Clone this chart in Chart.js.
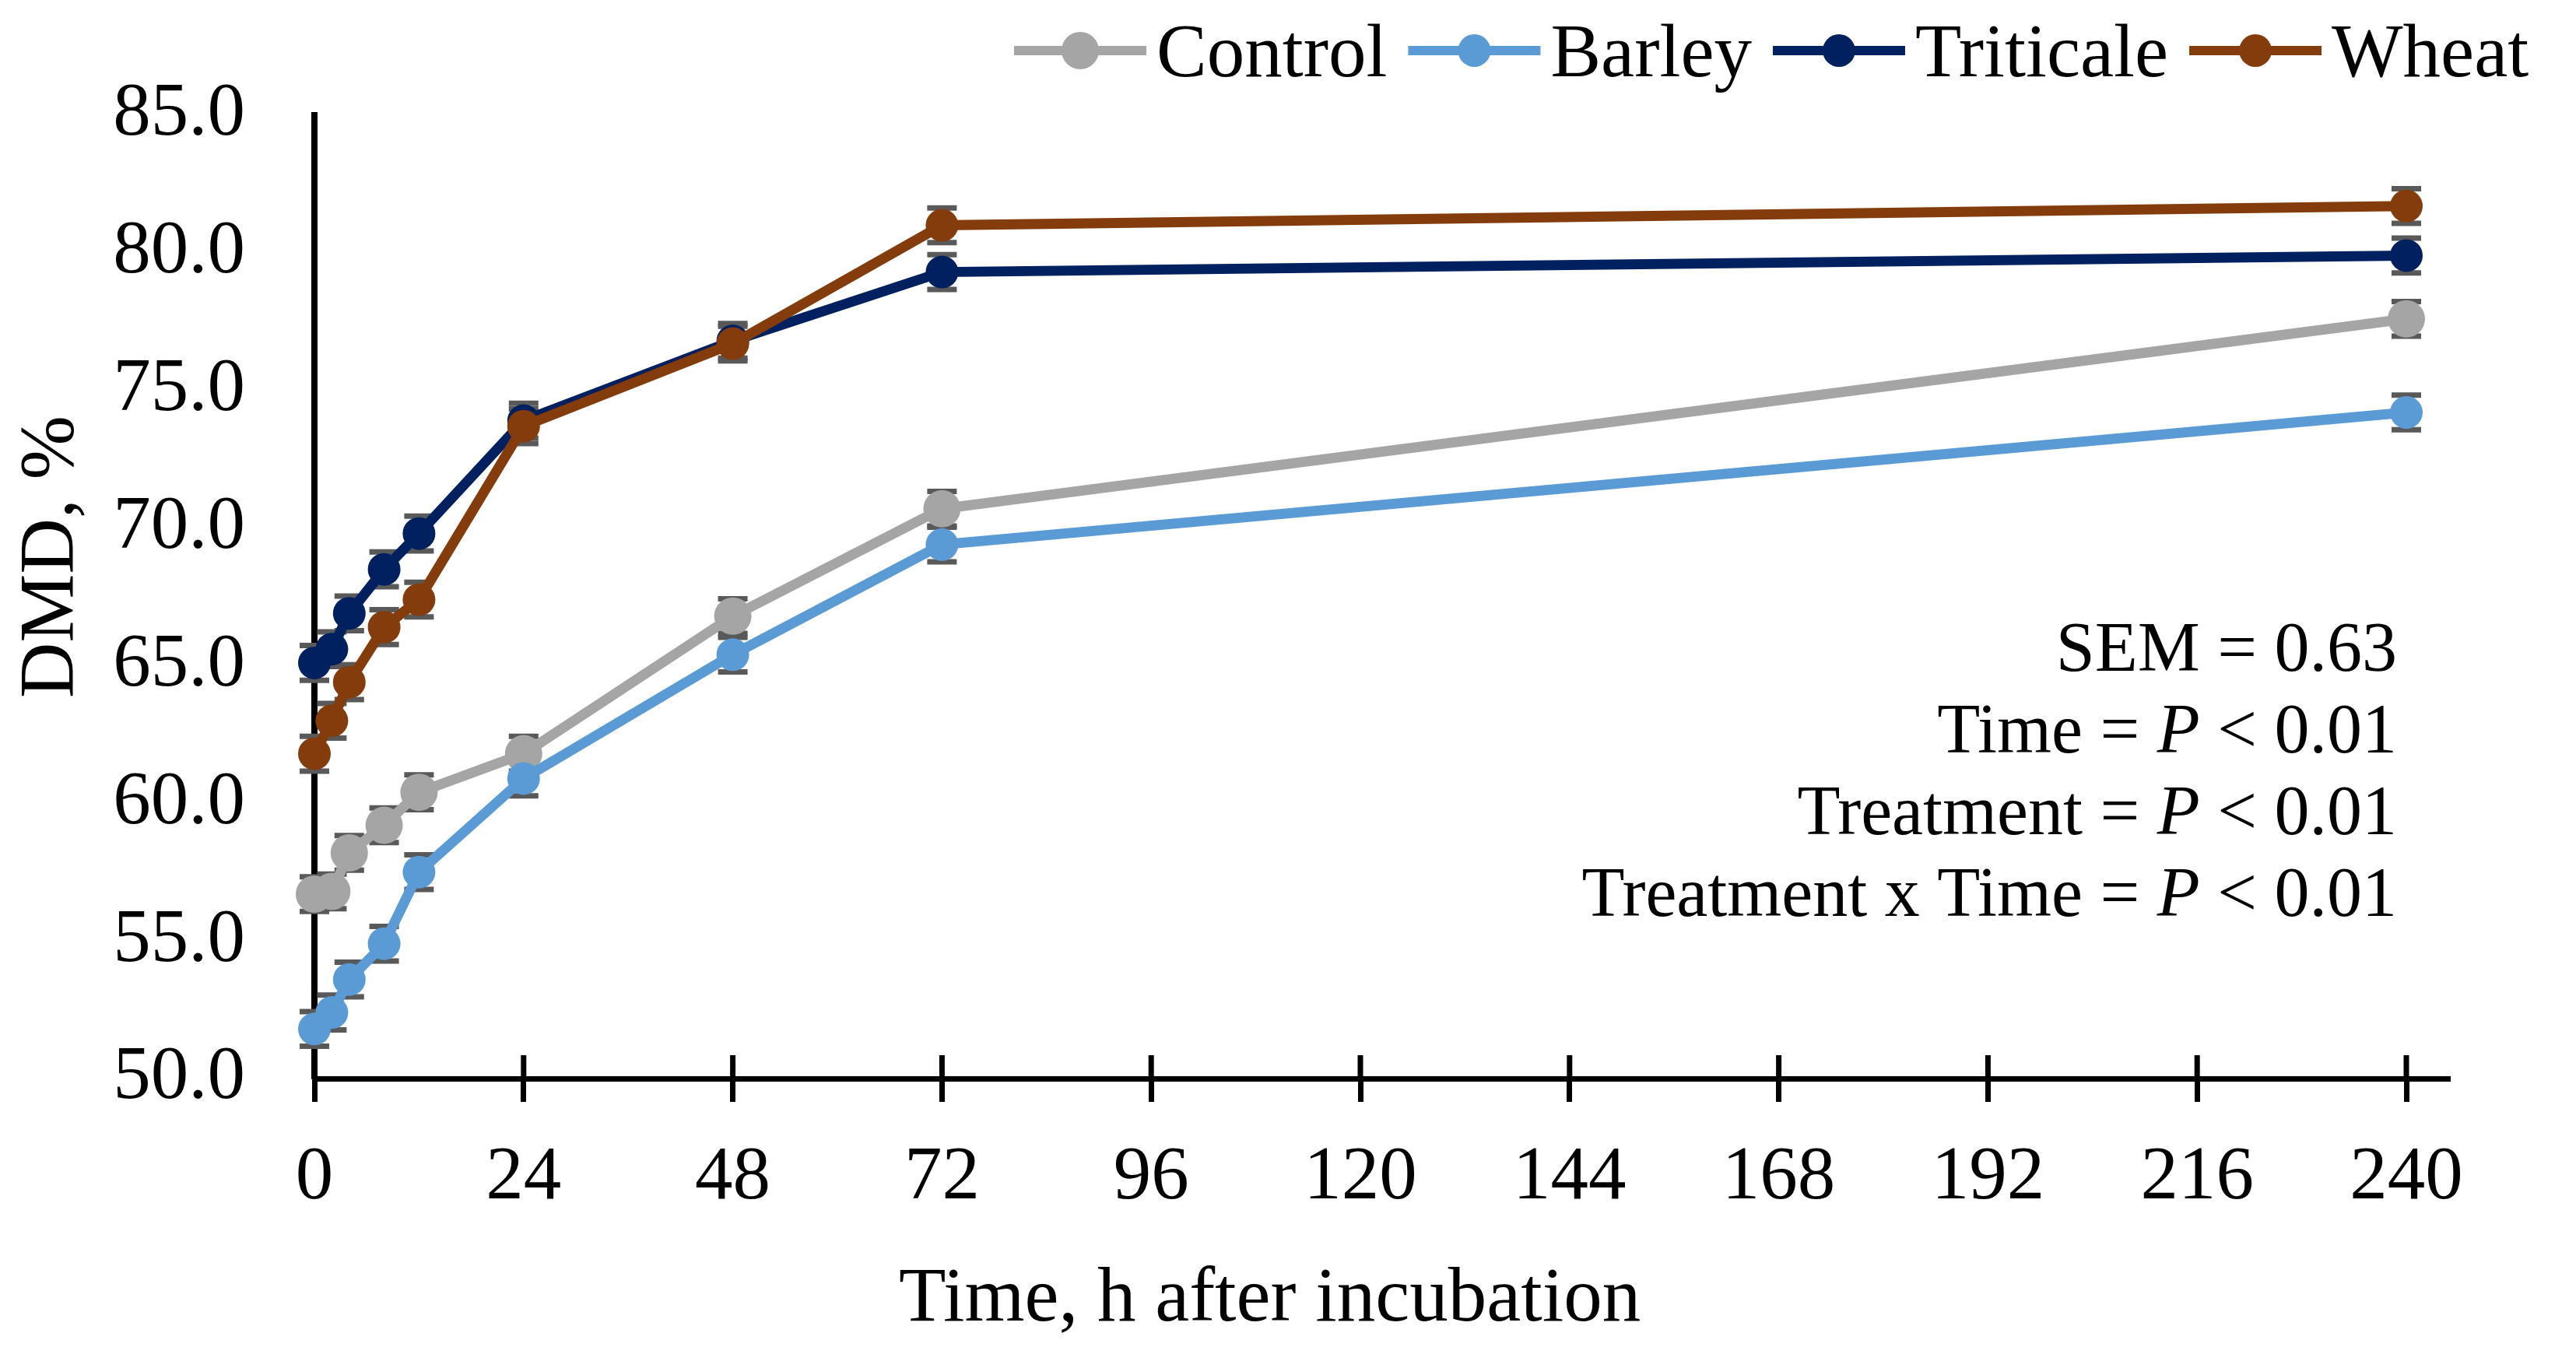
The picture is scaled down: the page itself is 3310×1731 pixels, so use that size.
<!DOCTYPE html>
<html lang="en">
<head>
<meta charset="UTF-8" />
<title>DMD chart</title>
<script src="https://cdn.jsdelivr.net/npm/chart.js"></script>
<style>
  html, body { margin: 0; padding: 0; background: #fff; }
  #wrap { width: 3310px; height: 1731px; }
</style>
</head>
<body>
<div id="wrap"><canvas id="myChart"></canvas></div>
<script>
// incubation times, h
const hours = [0, 2, 4, 8, 12, 24, 48, 72, 240];
const xTicks = [0, 24, 48, 72, 96, 120, 144, 168, 192, 216, 240];
const yTicks = [50, 55, 60, 65, 70, 75, 80, 85];

const seriesNames = ["Control", "Barley", "Triticale", "Wheat"];
const control = [56.7, 56.8, 58.2, 59.2, 60.4, 61.8, 66.8, 70.7, 77.6];
const barley = [51.8, 52.4, 53.6, 54.9, 57.5, 60.9, 65.4, 69.4, 74.2];
const triticale = [65.1, 65.6, 66.9, 68.5, 69.8, 73.9, 76.8, 79.3, 79.9];
const wheat = [61.8, 63.0, 64.4, 66.4, 67.4, 73.7, 76.7, 81.0, 81.7];
const sem = 0.63;

const statLines = [
  ["SEM = 0.63"],
  ["Time = ", "P", " < 0.01"],
  ["Treatment = ", "P", " < 0.01"],
  ["Treatment x Time = ", "P", " < 0.01"],
];

const colors = ["#A5A5A5", "#5B9BD5", "#002060", "#843C0C"];
const radii = [24, 21, 21, 21];
const FONT = "'Liberation Serif', 'Times New Roman', serif";

const datasets = [control, barley, triticale, wheat].map((vals, i) => ({
  label: seriesNames[i],
  data: hours.map((h, j) => ({ x: h, y: vals[j] })),
  borderColor: colors[i],
  backgroundColor: colors[i],
  borderWidth: 13,
  pointRadius: radii[i],
  pointBorderWidth: 0,
  pointHoverRadius: radii[i],
  tension: 0,
  clip: false,
  order: 4 - i, // wheat drawn last, on top
}));

// error bars under the lines, from the chart's own scales
const errorBars = {
  id: "errorBars",
  beforeDatasetsDraw(chart) {
    const { ctx, scales: { x, y } } = chart;
    ctx.save();
    ctx.strokeStyle = "#595959";
    chart.data.datasets.forEach((ds) => {
      ds.data.forEach((p) => {
        const px = x.getPixelForValue(p.x);
        const top = y.getPixelForValue(p.y + sem);
        const bot = y.getPixelForValue(p.y - sem);
        ctx.lineWidth = 3;
        ctx.beginPath();
        ctx.moveTo(px, top);
        ctx.lineTo(px, bot);
        ctx.stroke();
        ctx.lineWidth = 7;
        ctx.beginPath();
        ctx.moveTo(px - 19, top);
        ctx.lineTo(px + 19, top);
        ctx.moveTo(px - 19, bot);
        ctx.lineTo(px + 19, bot);
        ctx.stroke();
      });
    });
    ctx.restore();
  },
};

// ticks crossing the x axis: inner half drawn here, outer half by the grid
const innerTicks = {
  id: "innerTicks",
  afterDraw(chart) {
    const { ctx, scales: { x, y } } = chart;
    const base = y.getPixelForValue(50);
    ctx.save();
    ctx.strokeStyle = "#000";
    ctx.lineWidth = 7;
    x.ticks.forEach((t) => {
      const px = x.getPixelForValue(t.value);
      ctx.beginPath();
      ctx.moveTo(px, base);
      ctx.lineTo(px, base - 30);
      ctx.stroke();
    });
    ctx.restore();
  },
};

const extras = {
  id: "extras",
  afterDraw(chart) {
    const { ctx } = chart;
    ctx.save();
    ctx.fillStyle = "#000";

    // axis titles
    ctx.font = `99px ${FONT}`;
    ctx.textAlign = "left";
    ctx.textBaseline = "alphabetic";
    ctx.fillText("Time, h after incubation", 1155, 1697);
    ctx.save();
    ctx.translate(93, 897);
    ctx.rotate(-Math.PI / 2);
    ctx.fillText("DMD, %", 0, 0);
    ctx.restore();

    // statistics, right aligned, italic P
    const right = 3080;
    statLines.forEach((parts, i) => {
      const fonts = parts.map((s) => (s === "P" ? `italic 90px ${FONT}` : `90px ${FONT}`));
      let total = 0;
      parts.forEach((s, k) => { ctx.font = fonts[k]; total += ctx.measureText(s).width; });
      let cx = right - total;
      parts.forEach((s, k) => {
        ctx.font = fonts[k];
        ctx.fillText(s, cx, 862 + i * 105);
        cx += ctx.measureText(s).width;
      });
    });

    // legend
    ctx.font = `97px ${FONT}`;
    let lx = 1303;
    const ly = 65;
    seriesNames.forEach((name, i) => {
      ctx.strokeStyle = colors[i];
      ctx.fillStyle = colors[i];
      ctx.lineWidth = 12;
      ctx.beginPath();
      ctx.moveTo(lx, ly);
      ctx.lineTo(lx + 170, ly);
      ctx.stroke();
      ctx.beginPath();
      ctx.arc(lx + 85, ly, radii[i], 0, Math.PI * 2);
      ctx.fill();
      ctx.fillStyle = "#000";
      ctx.fillText(name, lx + 183, 98);
      lx += 183 + ctx.measureText(name).width + 27;
    });
    ctx.restore();
  },
};

new Chart(document.getElementById("myChart").getContext("2d"), {
  type: "line",
  data: { datasets },
  options: {
    responsive: true,
    maintainAspectRatio: false,
    devicePixelRatio: 1,
    animation: false,
    layout: { padding: { top: 148, right: 162, left: 0, bottom: 0 } },
    plugins: { legend: { display: false }, tooltip: { enabled: false } },
    scales: {
      x: {
        type: "linear",
        min: 0,
        max: 245,
        afterBuildTicks: (s) => { s.ticks = xTicks.map((v) => ({ value: v })); },
        afterFit: (s) => { s.height = 345; },
        grid: { display: true, drawOnChartArea: false, drawTicks: true, tickLength: 30, tickColor: "#000", tickWidth: 7 },
        border: { display: true, color: "#000", width: 7 },
        ticks: { color: "#000", padding: 40, maxRotation: 0, font: { family: FONT, size: 97 } },
      },
      y: {
        min: 50,
        max: 85,
        afterBuildTicks: (s) => { s.ticks = yTicks.map((v) => ({ value: v })); },
        afterFit: (s) => { s.width = 404; },
        grid: { display: false, drawTicks: false },
        border: { display: true, color: "#000", width: 8 },
        ticks: { color: "#000", padding: 89, font: { family: FONT, size: 97 }, callback: (v) => v.toFixed(1) },
      },
    },
  },
  plugins: [errorBars, innerTicks, extras],
});
</script>
</body>
</html>
